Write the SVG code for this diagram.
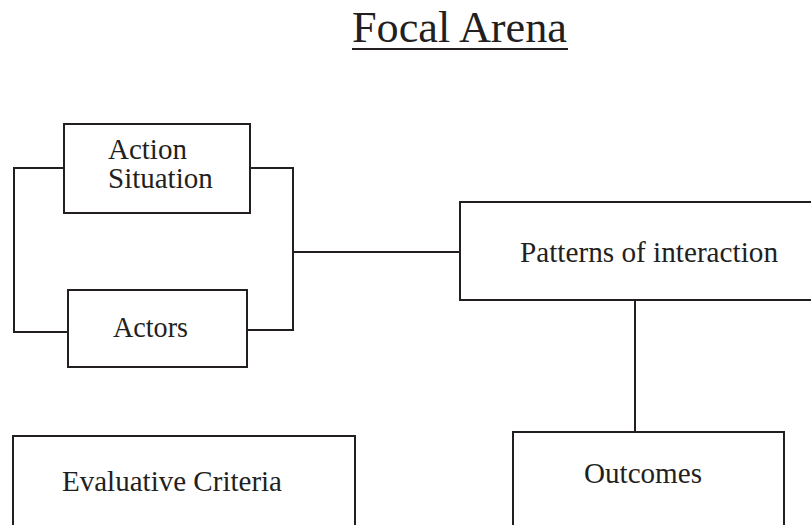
<svg xmlns="http://www.w3.org/2000/svg" width="811" height="525" viewBox="0 0 811 525">
  <style>
    .box { fill: #ffffff; stroke: #231f20; stroke-width: 2; }
    .wire { fill: none; stroke: #231f20; stroke-width: 2; }
    .lbl { font-family: "Liberation Serif", "Times New Roman", serif; font-size: 29px; fill: #231f20; }
    .title { font-family: "Liberation Serif", "Times New Roman", serif; font-size: 44px; fill: #231f20; }
  </style>
  <rect width="811" height="525" fill="#ffffff"/>

  <!-- heading -->
  <g id="title">
    <text class="title" x="352" y="42" textLength="215" lengthAdjust="spacingAndGlyphs">Focal Arena</text>
    <line x1="352" y1="49" x2="568" y2="49" stroke="#231f20" stroke-width="2.2"/>
  </g>

  <!-- connectors -->
  <g id="connectors">
    <polyline class="wire" points="64,168 14,168 14,332 68,332"/>
    <polyline class="wire" points="250,168 293,168 293,330 247,330"/>
    <line class="wire" x1="293" y1="252" x2="460" y2="252"/>
    <line class="wire" x1="635" y1="300" x2="635" y2="432"/>
  </g>

  <g id="action-situation">
    <rect class="box" x="64" y="124" width="186" height="89"/>
    <text class="lbl" x="108" y="159">Action</text>
    <text class="lbl" x="108" y="188">Situation</text>
  </g>

  <g id="actors">
    <rect class="box" x="68" y="290" width="179" height="77"/>
    <text class="lbl" x="113" y="337" textLength="75" lengthAdjust="spacingAndGlyphs">Actors</text>
  </g>

  <g id="patterns">
    <rect class="box" x="460" y="202" width="360" height="98"/>
    <text class="lbl" x="520" y="262" textLength="258" lengthAdjust="spacingAndGlyphs">Patterns of interaction</text>
  </g>

  <g id="evaluative-criteria">
    <rect class="box" x="13" y="436" width="342" height="100"/>
    <text class="lbl" x="62" y="491" textLength="220" lengthAdjust="spacingAndGlyphs">Evaluative Criteria</text>
  </g>

  <g id="outcomes">
    <rect class="box" x="513" y="432" width="271" height="100"/>
    <text class="lbl" x="584" y="483" textLength="118" lengthAdjust="spacingAndGlyphs">Outcomes</text>
  </g>
</svg>
